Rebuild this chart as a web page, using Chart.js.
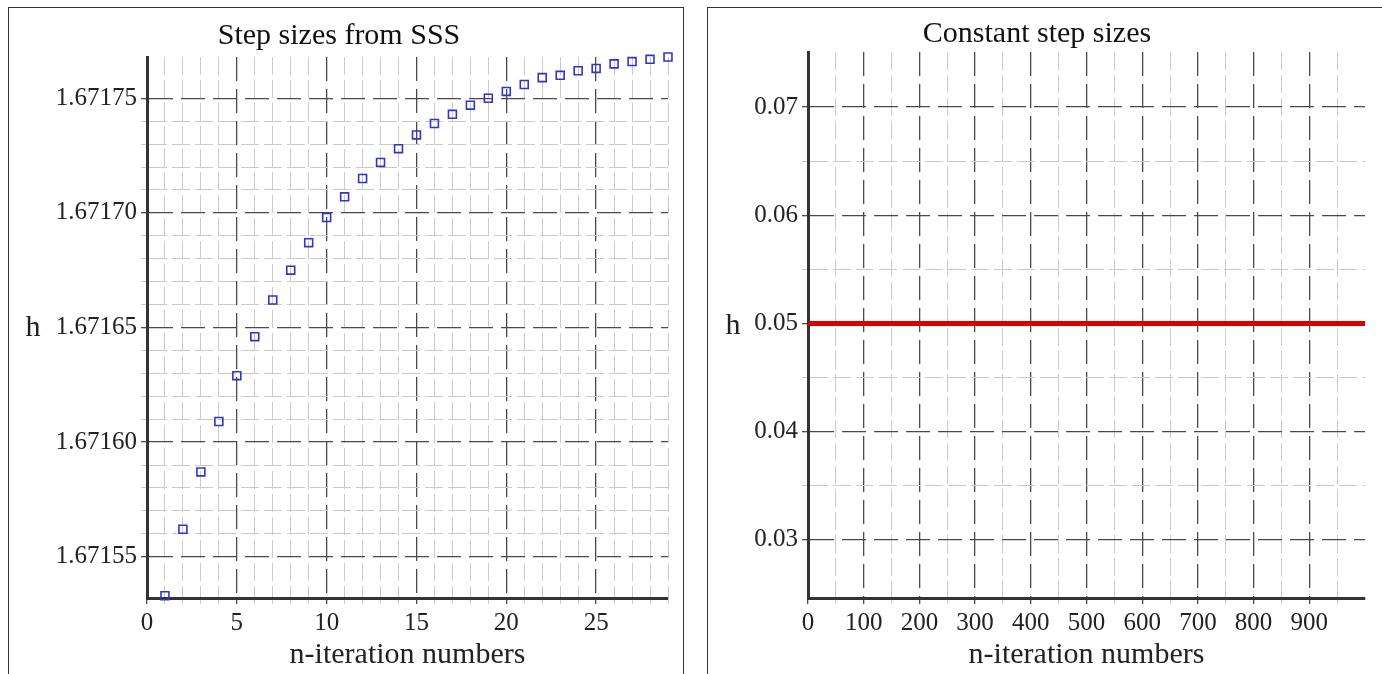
<!DOCTYPE html>
<html>
<head>
<meta charset="utf-8">
<script src="https://cdn.jsdelivr.net/npm/chart.js@4"></script>
<style>
  body { margin: 0; background: #fff; width: 1382px; height: 674px; overflow: hidden; position: relative; }
  .panel { position: absolute; border: 1.5px solid #333; box-sizing: border-box; }
  canvas { position: absolute; }
</style>
</head>
<body>
<div class="panel" style="left:8px; top:7px; width:676px; height:720px;"></div>
<div class="panel" style="left:707px; top:7px; width:700px; height:720px;"></div>
<canvas id="chart-sss" width="672" height="665" style="left:10px; top:9px;"></canvas>
<canvas id="chart-const" width="673" height="665" style="left:709px; top:9px;"></canvas>
<script>
// Données
const ssIterations = [1, 2, 3, 4, 5, 6, 7, 8, 9, 10, 11, 12, 13, 14, 15, 16, 17, 18, 19, 20, 21, 22, 23, 24, 25, 26, 27, 28, 29];
const ssStepSizes = [
  1.671533, 1.671562, 1.671587, 1.671609, 1.671629, 1.671646, 1.671662, 1.671675, 1.671687, 1.671698,
  1.671707, 1.671715, 1.671722, 1.671728, 1.671734, 1.671739, 1.671743, 1.671747, 1.671750, 1.671753,
  1.671756, 1.671759, 1.671760, 1.671762, 1.671763, 1.671765, 1.671766, 1.671767, 1.671768
];
const constIterations = [0, 1000];
const constStepSizes = [0.05, 0.05];

const SERIF = "'Liberation Serif', 'DejaVu Serif', serif";
const MAJOR_COLOR = '#4a4a4a';
const MINOR_COLOR = '#cacaca';
const NONE = 'rgba(0,0,0,0)';

// Une graduation est "majeure" tous les n pas mineurs
function gridKind(value, step, every) {
  const k = value / step;
  const r = Math.round(k);
  if (Math.abs(k - r) > 1e-3) return 'none';
  return (r % every === 0) ? 'major' : 'minor';
}

function makeAxis(opts) {
  const { min, max, step, every, label, fixed, size, horizontal } = opts;
  const kindOf = (v) => {
    if (opts.noEdgeLine && Math.abs(v - max) < step / 2) return 'none';
    return gridKind(v, step, every);
  };
  const colorOf = (ctx) => {
    const k = kindOf(ctx.tick.value);
    return k === 'major' ? MAJOR_COLOR : (k === 'minor' ? MINOR_COLOR : NONE);
  };
  return {
    type: 'linear',
    min: min,
    max: max,
    afterFit: (scale) => {
      if (horizontal) scale.height = size; else scale.width = size;
    },
    ticks: {
      stepSize: step,
      autoSkip: false,
      maxRotation: 0,
      minRotation: 0,
      padding: 4,
      color: '#222',
      font: { family: SERIF, size: 25 },
      callback: (v) => {
        if (gridKind(v, step, every) !== 'major') return '';
        if (opts.hideLast && Math.abs(v - max) < step / 2) return '';
        return fixed === null ? String(Math.round(v)) : v.toFixed(fixed);
      }
    },
    grid: {
      color: colorOf,
      lineWidth: (ctx) => kindOf(ctx.tick.value) === 'major' ? 1.3 : 1,
      tickLength: 6,
      tickColor: colorOf
    },
    border: {
      display: true,
      color: '#333',
      width: 3,
      dash: (ctx) => {
        if (!ctx.tick) return [];
        return gridKind(ctx.tick.value, step, every) === 'major' ? [24, 8] : [18, 5];
      }
    },
    title: label ? {
      display: true,
      text: label,
      color: '#222',
      font: { family: SERIF, size: 30 },
      padding: { top: 0, bottom: 1 }
    } : { display: false }
  };
}

// Petit plugin pour le "h" horizontal à gauche de l'axe
const hLabel = {
  id: 'hLabel',
  afterDraw(chart, args, opts) {
    const ctx = chart.ctx;
    const area = chart.chartArea;
    ctx.save();
    ctx.font = '30px ' + SERIF;
    ctx.fillStyle = '#222';
    ctx.textAlign = 'center';
    ctx.textBaseline = 'middle';
    ctx.fillText('h', opts.x, (area.top + area.bottom) / 2 + 1);
    ctx.restore();
  }
};

function createChart(id, cfg) {
  const ctx = document.getElementById(id).getContext('2d');
  return new Chart(ctx, {
    type: 'scatter',
    data: { datasets: [cfg.dataset] },
    options: {
      responsive: false,
      animation: false,
      devicePixelRatio: 1,
      layout: { padding: { left: 0, right: cfg.padRight, top: 0, bottom: 0 } },
      scales: { x: cfg.x, y: cfg.y },
      plugins: {
        legend: { display: false },
        tooltip: { enabled: false },
        title: {
          display: true,
          text: cfg.title,
          color: '#111',
          font: { family: SERIF, size: 30, weight: 'normal' },
          padding: cfg.titlePad
        },
        hLabel: { x: cfg.hX }
      }
    },
    plugins: [hLabel]
  });
}

createChart('chart-sss', {
  title: 'Step sizes from SSS',
  titlePad: { top: 9, bottom: 3 },
  padRight: 14,
  hX: 23,
  dataset: {
    data: ssIterations.map((n, i) => ({ x: n, y: ssStepSizes[i] })),
    showLine: false,
    pointStyle: 'rect',
    pointRadius: 5.6,
    pointBackgroundColor: 'rgba(255,255,255,0)',
    pointBorderColor: '#3434c4',
    pointBorderWidth: 1.6,
    clip: false
  },
  x: makeAxis({ min: 0, max: 29, step: 1, every: 5, fixed: null, size: 76, horizontal: true,
                label: 'n-iteration numbers', hideLast: true }),
  y: makeAxis({ min: 1.671532, max: 1.671768, step: 0.00001, every: 5, fixed: 5, size: 137, horizontal: false })
});

createChart('chart-const', {
  title: 'Constant step sizes',
  titlePad: { top: 7, bottom: 0 },
  padRight: 17,
  hX: 24,
  dataset: {
    data: constIterations.map((n, i) => ({ x: n, y: constStepSizes[i] })),
    showLine: true,
    borderColor: '#d80000',
    borderWidth: 5,
    pointRadius: 0,
    clip: false
  },
  x: makeAxis({ min: 0, max: 1000, step: 50, every: 2, fixed: null, size: 76, horizontal: true,
                label: 'n-iteration numbers', hideLast: true, noEdgeLine: true }),
  y: makeAxis({ min: 0.0246, max: 0.0751, step: 0.005, every: 2, fixed: 2, size: 99, horizontal: false })
});
</script>
</body>
</html>
